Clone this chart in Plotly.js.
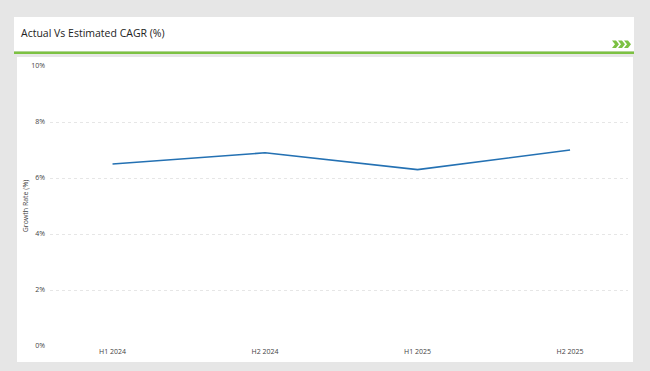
<!DOCTYPE html>
<html>
<head>
<meta charset="utf-8">
<script src="https://cdn.plot.ly/plotly-3.0.1.min.js"></script>
<style>html,body{margin:0;padding:0;background:#e6e6e6;}#chart{width:650px;height:371px;}</style>
</head>
<body>
<div id="chart"></div>
<script>
const categories = ["H1 2024", "H2 2024", "H1 2025", "H2 2025"];
const growthRate = [6.5, 6.9, 6.3, 7.0];
const yTickVals = [0, 2, 4, 6, 8, 10];
const yTickText = ["0%", "2%", "4%", "6%", "8%", "10%"];

const W = 650, H = 371, L = 50, R = 22, T = 66, B = 25;
const PW = W - L - R, PH = H - T - B;
const px = x => (x - L) / PW;
const py = y => (H - B - y) / PH;

function chevron(x0, yTop, yBot) {
  const w = 7, d = 3, ym = (yTop + yBot) / 2;
  const pts = [[x0, yTop], [x0 + w - d, yTop], [x0 + w, ym], [x0 + w - d, yBot], [x0, yBot], [x0 + d, ym]];
  return "M" + pts.map(p => px(p[0]).toFixed(5) + "," + py(p[1]).toFixed(5)).join(" L") + " Z";
}

const shapes = [
  {type: "rect", xref: "paper", yref: "paper", layer: "below", x0: px(14), x1: px(634), y0: py(51), y1: py(17), fillcolor: "#ffffff", line: {width: 0}},
  {type: "rect", xref: "paper", yref: "paper", layer: "below", x0: px(14), x1: px(634), y0: py(54), y1: py(51.5), fillcolor: "#7cc142", line: {width: 0}},
  {type: "rect", xref: "paper", yref: "paper", layer: "below", x0: px(17), x1: px(633), y0: py(362), y1: py(57), fillcolor: "#ffffff", line: {width: 0}}
];
[612, 618, 624].forEach(x => shapes.push({type: "path", xref: "paper", yref: "paper", path: chevron(x, 40.5, 48), fillcolor: "#7cc142", line: {width: 0}}));

const data = [{
  type: "scatter", mode: "lines", x: categories, y: growthRate,
  line: {color: "#2471b3", width: 1.6}, hoverinfo: "skip"
}];

const layout = {
  width: W, height: H,
  margin: {l: L, r: R, t: T, b: B},
  paper_bgcolor: "#e6e6e6", plot_bgcolor: "rgba(0,0,0,0)",
  font: {family: "Open Sans, Liberation Sans, sans-serif", color: "#444", size: 7},
  showlegend: false,
  xaxis: {
    type: "category", range: [-0.41, 3.38], showgrid: false, zeroline: false, showline: false,
    ticks: "", tickfont: {size: 7, color: "#444"}, fixedrange: true
  },
  yaxis: {
    range: [0, 10], tickvals: yTickVals, ticktext: yTickText, showgrid: true,
    gridcolor: "#e6e6e6", griddash: "dot", gridwidth: 1, zeroline: false, showline: false,
    ticks: "", tickfont: {size: 7, color: "#444"}, ticklabelstandoff: 4,
    title: {text: "Growth Rate (%)", font: {size: 7, color: "#444"}, standoff: 1}, fixedrange: true
  },
  shapes: shapes,
  annotations: [{
    xref: "paper", yref: "paper", x: px(19), y: py(33), xanchor: "left", yanchor: "middle",
    text: "Actual Vs Estimated CAGR (%)", showarrow: false,
    font: {size: 10.5, color: "#222", family: "Open Sans, Liberation Sans, sans-serif"}
  }]
};

Plotly.newPlot("chart", data, layout, {displayModeBar: false, staticPlot: true});
</script>
</body>
</html>
